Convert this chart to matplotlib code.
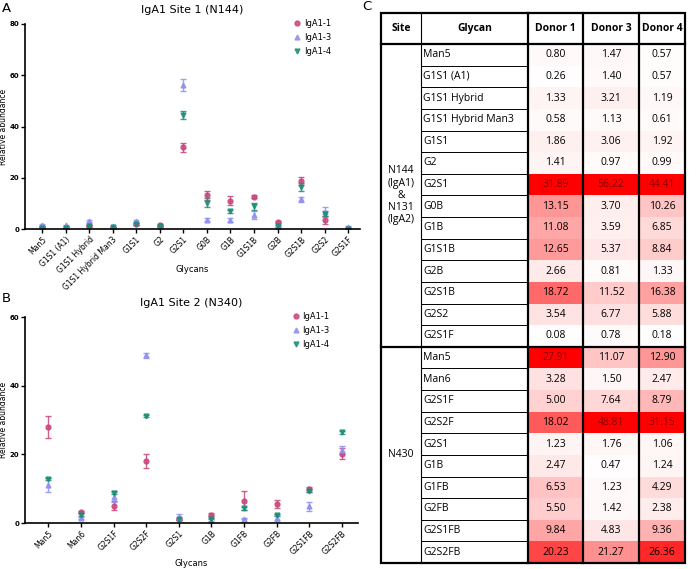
import matplotlib
matplotlib.use('Agg')
import matplotlib.pyplot as plt
from matplotlib.patches import Rectangle
from matplotlib.lines import Line2D
import numpy as np

plt.rcParams['font.family'] = ['DejaVu Sans']

# panel A data (site N144)
glycans_a = ['Man5', 'G1S1 (A1)', 'G1S1 Hybrid', 'G1S1 Hybrid Man3', 'G1S1', 'G2',
             'G2S1', 'G0B', 'G1B', 'G1S1B', 'G2B', 'G2S1B', 'G2S2', 'G2S1F']
a_iga1_1 = [0.80, 0.26, 1.33, 0.58, 1.86, 1.41, 31.89, 13.15, 11.08, 12.65, 2.66, 18.72, 3.54, 0.08]
a_iga1_3 = [1.47, 1.40, 3.21, 1.13, 3.06, 0.97, 56.22, 3.70, 3.59, 5.37, 0.81, 11.52, 6.77, 0.78]
a_iga1_4 = [0.57, 0.57, 1.19, 0.61, 1.92, 0.99, 44.41, 10.26, 6.85, 8.84, 1.33, 16.38, 5.88, 0.18]
a_err_1 = [0.2, 0.2, 0.3, 0.2, 0.3, 0.3, 1.8, 1.7, 1.7, 0.5, 0.3, 1.5, 1.7, 0.1]
a_err_3 = [0.3, 0.3, 0.4, 0.2, 0.6, 0.2, 2.5, 0.4, 0.8, 1.5, 0.3, 1.0, 2.0, 0.2]
a_err_4 = [0.2, 0.2, 0.3, 0.2, 0.4, 0.2, 1.5, 1.8, 0.7, 1.5, 0.4, 1.5, 1.0, 0.1]

# panel B data (site N340 / N430)
glycans_b = ['Man5', 'Man6', 'G2S1F', 'G2S2F', 'G2S1', 'G1B', 'G1FB', 'G2FB', 'G2S1FB', 'G2S2FB']
b_iga1_1 = [27.91, 3.28, 5.00, 18.02, 1.23, 2.47, 6.53, 5.50, 9.84, 20.23]
b_iga1_3 = [11.07, 1.50, 7.64, 48.81, 1.76, 0.47, 1.23, 1.42, 4.83, 21.27]
b_iga1_4 = [12.90, 2.47, 8.79, 31.15, 1.06, 1.24, 4.29, 2.38, 9.36, 26.36]
b_err_1 = [3.2, 0.3, 1.3, 2.0, 0.3, 0.3, 2.7, 1.1, 0.7, 1.5]
b_err_3 = [2.0, 0.2, 1.5, 0.8, 1.0, 0.2, 0.2, 0.8, 1.2, 1.2]
b_err_4 = [0.3, 0.3, 0.4, 0.3, 0.2, 0.2, 0.5, 0.3, 0.3, 0.3]

series_names = ['IgA1-1', 'IgA1-3', 'IgA1-4']
colors = ['#c8457a', '#8f8ff2', '#1a8f77']
markers = ['o', '^', 'v']

# table (panel C)
site_labels = ['N144\n(IgA1)\n&\nN131\n(IgA2)', 'N430']
donors = ['Donor 1', 'Donor 3', 'Donor 4']
table_glycans = [glycans_a, glycans_b]
table_values = [[a_iga1_1, a_iga1_3, a_iga1_4], [b_iga1_1, b_iga1_3, b_iga1_4]]

W, H = 696, 569
fig = plt.figure(figsize=(W / 100, H / 100), dpi=100)


def px_axes(left, top, right, bottom):
    return fig.add_axes([left / W, 1 - bottom / H, (right - left) / W, (bottom - top) / H])


def scatter_panel(ax, names, vals, errs, ymax, title):
    x = np.arange(len(names))
    for v, e, c, m, lab in zip(vals, errs, colors, markers, series_names):
        ax.errorbar(x, v, yerr=e, fmt=m, color=c, ecolor=c, ms=3.5, elinewidth=1,
                    capsize=2.5, capthick=1, alpha=0.85)
    ax.set_xlim(-0.72, len(names) - 0.5)
    ax.set_ylim(0, ymax)
    ax.set_yticks(np.arange(0, ymax + 1, 20))
    ax.set_xticks(x)
    ax.set_xticklabels(names, rotation=45, ha='right', rotation_mode='anchor', fontsize=5.5)
    for lbl in ax.get_yticklabels():
        lbl.set_fontsize(5)
        lbl.set_fontweight('bold')
    for s in ['top', 'right']:
        ax.spines[s].set_visible(False)
    for s in ['left', 'bottom']:
        ax.spines[s].set_linewidth(1.2)
    ax.tick_params(direction='out', length=3, width=1, pad=1.2)
    ax.set_ylabel('Relative abundance', fontsize=5.5)
    ax.yaxis.set_label_coords(-0.05, 0.5)
    ax.set_xlabel('Glycans', fontsize=6)
    ax.xaxis.set_label_coords(0.5, -0.175)
    ax.set_title(title, fontsize=8, pad=8)
    handles = [Line2D([], [], ls='none', marker=m, color=c, ms=3.5, alpha=0.85)
               for c, m in zip(colors, markers)]
    ax.legend(handles, series_names, loc='upper left', frameon=False, fontsize=6,
              handletextpad=0.3, labelspacing=0.6, borderaxespad=0, handlelength=1.0,
              bbox_to_anchor=(0.79, 1.04))


ax_a = px_axes(25, 24, 360, 229)
scatter_panel(ax_a, glycans_a, [a_iga1_1, a_iga1_3, a_iga1_4], [a_err_1, a_err_3, a_err_4], 80,
              'IgA1 Site 1 (N144)')
ax_b = px_axes(25, 317, 358, 523)
scatter_panel(ax_b, glycans_b, [b_iga1_1, b_iga1_3, b_iga1_4], [b_err_1, b_err_3, b_err_4], 60,
              'IgA1 Site 2 (N340)')

fig.text(2 / W, 1 - 9 / H, 'A', fontsize=9.5, va='center')
fig.text(2 / W, 1 - 298 / H, 'B', fontsize=9.5, va='center')
fig.text(362 / W, 1 - 6 / H, 'C', fontsize=9.5, va='center')

# ---- table ----
col_edges = [381, 421, 528, 583, 639, 685]
top, head_bottom, bottom = 13, 44, 563
n_rows = sum(len(g) for g in table_glycans)
row_h = (bottom - head_bottom) / n_rows

ax_c = px_axes(0, 0, W, H)
ax_c.set_xlim(0, W)
ax_c.set_ylim(H, 0)
ax_c.axis('off')

tfont = ['Open Sans', 'DejaVu Sans']
headers = ['Site', 'Glycan'] + donors
for i, h in enumerate(headers):
    ax_c.text((col_edges[i] + col_edges[i + 1]) / 2, (top + head_bottom) / 2, h,
              ha='center', va='center', fontsize=7.5, fontweight='bold', family=tfont)

r0 = 0
for site, gly, vals in zip(site_labels, table_glycans, table_values):
    n = len(gly)
    y_top = head_bottom + r0 * row_h
    ax_c.text((col_edges[0] + col_edges[1]) / 2, y_top + n * row_h / 2, site,
              ha='center', va='center', fontsize=7.5, family=tfont, linespacing=1.15)
    for j, col_vals in enumerate(vals):
        mx = max(col_vals)
        for k, v in enumerate(col_vals):
            f = v / mx
            yy = y_top + k * row_h
            ax_c.add_patch(Rectangle((col_edges[j + 2], yy), col_edges[j + 3] - col_edges[j + 2],
                                     row_h, facecolor=(1, 1 - f, 1 - f), edgecolor='none'))
            tc = '#8a0000' if f > 0.92 else 'black'
            ax_c.text((col_edges[j + 2] + col_edges[j + 3]) / 2, yy + row_h / 2, f'{v:.2f}',
                      ha='center', va='center', fontsize=7.5, family=tfont, color=tc)
    for k, g in enumerate(gly):
        yy = y_top + k * row_h
        ax_c.text(col_edges[1] + 2, yy + row_h / 2, g, ha='left', va='center',
                  fontsize=7.5, family=tfont)
        if k > 0:
            ax_c.plot([col_edges[1], col_edges[2]], [yy, yy], color='black', lw=0.7)
    if r0 > 0:
        ax_c.plot([col_edges[0], col_edges[-1]], [y_top, y_top], color='black', lw=1.6)
    r0 += n

ax_c.plot([col_edges[0], col_edges[-1]], [head_bottom, head_bottom], color='black', lw=1.6)
ax_c.plot([col_edges[1], col_edges[1]], [top, bottom], color='black', lw=0.8)
for xe in col_edges[2:5]:
    ax_c.plot([xe, xe], [top, bottom], color='black', lw=1.6)
ax_c.add_patch(Rectangle((col_edges[0], top), col_edges[-1] - col_edges[0], bottom - top,
                         facecolor='none', edgecolor='black', lw=1.6))

fig.savefig('out.png', dpi=100)
